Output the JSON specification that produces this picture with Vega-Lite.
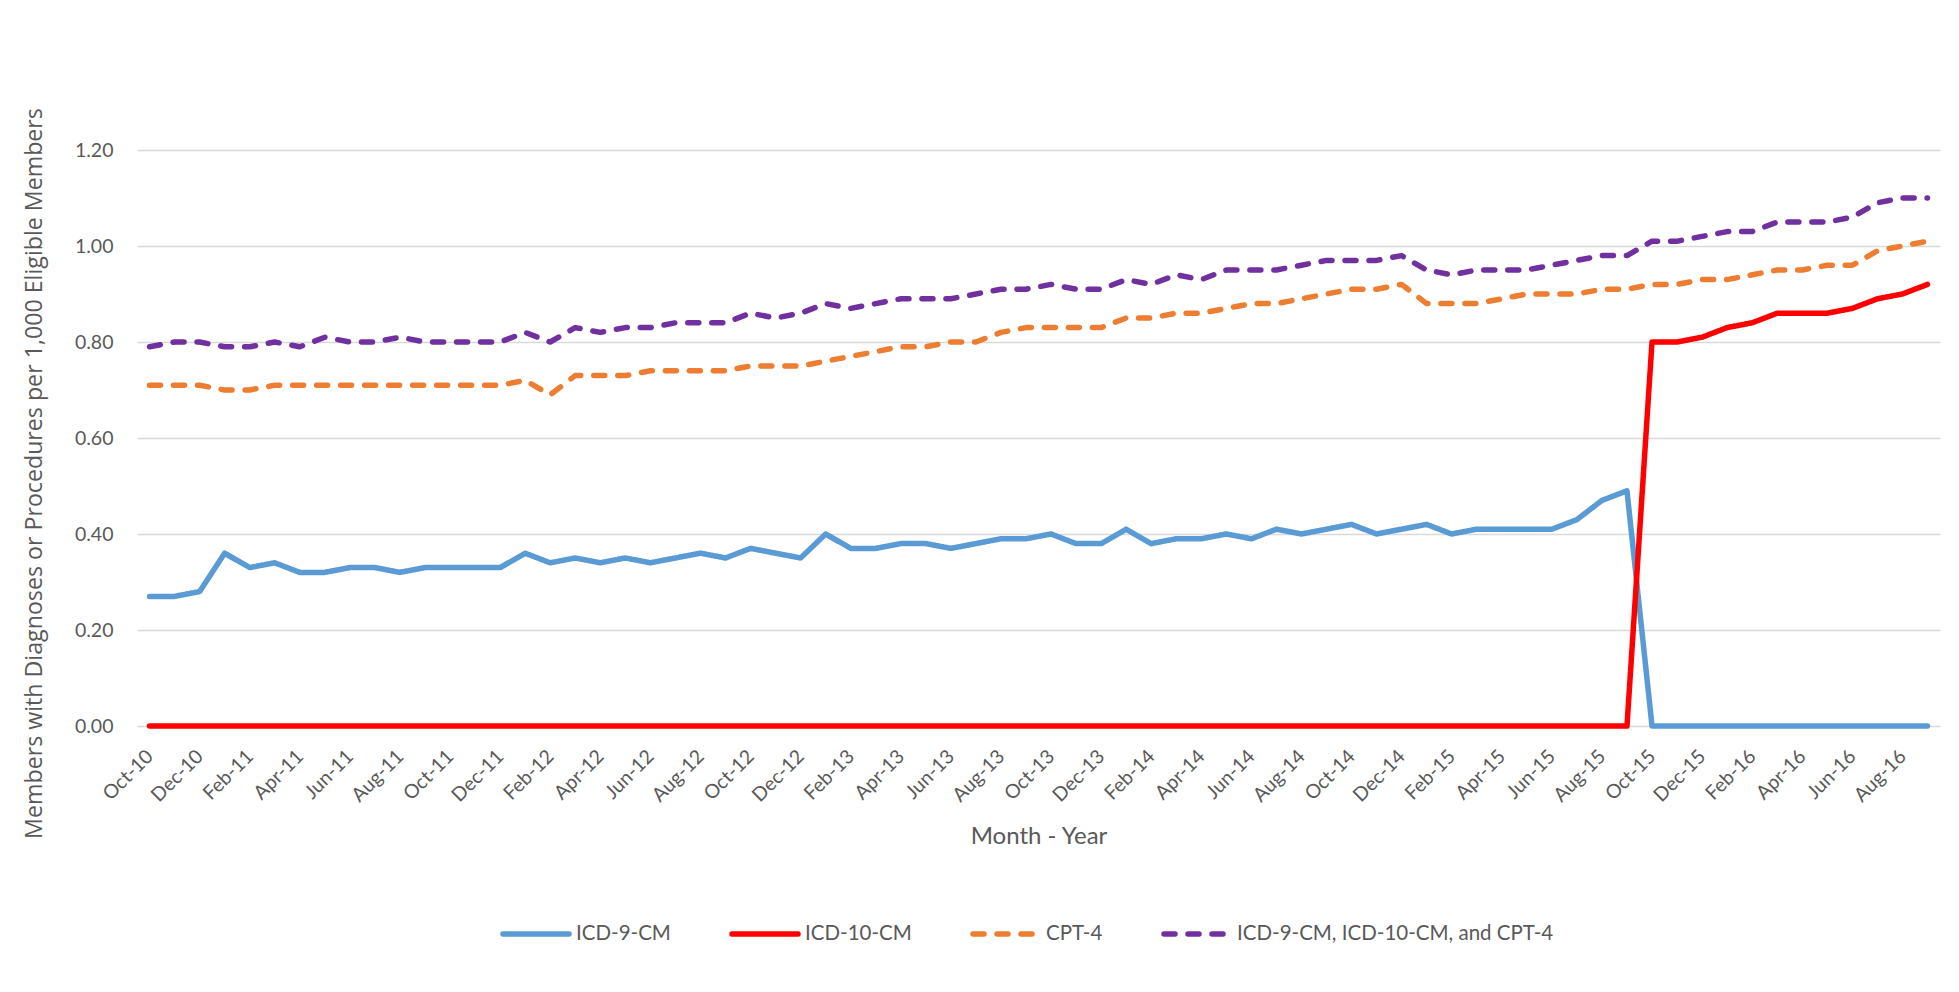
{
  "$schema": "https://vega.github.io/schema/vega-lite/v6.json",
  "width": 1803,
  "height": 576,
  "autosize": {"type": "none"},
  "padding": {"left": 137, "top": 150, "right": 19, "bottom": 266},
  "background": "white",
  "data": {"values": [
    {"month": "Oct-10", "ICD-9-CM": 0.27, "ICD-10-CM": 0, "CPT-4": 0.71, "ICD-9-CM, ICD-10-CM, and CPT-4": 0.79},
    {"month": "Nov-10", "ICD-9-CM": 0.27, "ICD-10-CM": 0, "CPT-4": 0.71, "ICD-9-CM, ICD-10-CM, and CPT-4": 0.80},
    {"month": "Dec-10", "ICD-9-CM": 0.28, "ICD-10-CM": 0, "CPT-4": 0.71, "ICD-9-CM, ICD-10-CM, and CPT-4": 0.80},
    {"month": "Jan-11", "ICD-9-CM": 0.36, "ICD-10-CM": 0, "CPT-4": 0.70, "ICD-9-CM, ICD-10-CM, and CPT-4": 0.79},
    {"month": "Feb-11", "ICD-9-CM": 0.33, "ICD-10-CM": 0, "CPT-4": 0.70, "ICD-9-CM, ICD-10-CM, and CPT-4": 0.79},
    {"month": "Mar-11", "ICD-9-CM": 0.34, "ICD-10-CM": 0, "CPT-4": 0.71, "ICD-9-CM, ICD-10-CM, and CPT-4": 0.80},
    {"month": "Apr-11", "ICD-9-CM": 0.32, "ICD-10-CM": 0, "CPT-4": 0.71, "ICD-9-CM, ICD-10-CM, and CPT-4": 0.79},
    {"month": "May-11", "ICD-9-CM": 0.32, "ICD-10-CM": 0, "CPT-4": 0.71, "ICD-9-CM, ICD-10-CM, and CPT-4": 0.81},
    {"month": "Jun-11", "ICD-9-CM": 0.33, "ICD-10-CM": 0, "CPT-4": 0.71, "ICD-9-CM, ICD-10-CM, and CPT-4": 0.80},
    {"month": "Jul-11", "ICD-9-CM": 0.33, "ICD-10-CM": 0, "CPT-4": 0.71, "ICD-9-CM, ICD-10-CM, and CPT-4": 0.80},
    {"month": "Aug-11", "ICD-9-CM": 0.32, "ICD-10-CM": 0, "CPT-4": 0.71, "ICD-9-CM, ICD-10-CM, and CPT-4": 0.81},
    {"month": "Sep-11", "ICD-9-CM": 0.33, "ICD-10-CM": 0, "CPT-4": 0.71, "ICD-9-CM, ICD-10-CM, and CPT-4": 0.80},
    {"month": "Oct-11", "ICD-9-CM": 0.33, "ICD-10-CM": 0, "CPT-4": 0.71, "ICD-9-CM, ICD-10-CM, and CPT-4": 0.80},
    {"month": "Nov-11", "ICD-9-CM": 0.33, "ICD-10-CM": 0, "CPT-4": 0.71, "ICD-9-CM, ICD-10-CM, and CPT-4": 0.80},
    {"month": "Dec-11", "ICD-9-CM": 0.33, "ICD-10-CM": 0, "CPT-4": 0.71, "ICD-9-CM, ICD-10-CM, and CPT-4": 0.80},
    {"month": "Jan-12", "ICD-9-CM": 0.36, "ICD-10-CM": 0, "CPT-4": 0.72, "ICD-9-CM, ICD-10-CM, and CPT-4": 0.82},
    {"month": "Feb-12", "ICD-9-CM": 0.34, "ICD-10-CM": 0, "CPT-4": 0.69, "ICD-9-CM, ICD-10-CM, and CPT-4": 0.80},
    {"month": "Mar-12", "ICD-9-CM": 0.35, "ICD-10-CM": 0, "CPT-4": 0.73, "ICD-9-CM, ICD-10-CM, and CPT-4": 0.83},
    {"month": "Apr-12", "ICD-9-CM": 0.34, "ICD-10-CM": 0, "CPT-4": 0.73, "ICD-9-CM, ICD-10-CM, and CPT-4": 0.82},
    {"month": "May-12", "ICD-9-CM": 0.35, "ICD-10-CM": 0, "CPT-4": 0.73, "ICD-9-CM, ICD-10-CM, and CPT-4": 0.83},
    {"month": "Jun-12", "ICD-9-CM": 0.34, "ICD-10-CM": 0, "CPT-4": 0.74, "ICD-9-CM, ICD-10-CM, and CPT-4": 0.83},
    {"month": "Jul-12", "ICD-9-CM": 0.35, "ICD-10-CM": 0, "CPT-4": 0.74, "ICD-9-CM, ICD-10-CM, and CPT-4": 0.84},
    {"month": "Aug-12", "ICD-9-CM": 0.36, "ICD-10-CM": 0, "CPT-4": 0.74, "ICD-9-CM, ICD-10-CM, and CPT-4": 0.84},
    {"month": "Sep-12", "ICD-9-CM": 0.35, "ICD-10-CM": 0, "CPT-4": 0.74, "ICD-9-CM, ICD-10-CM, and CPT-4": 0.84},
    {"month": "Oct-12", "ICD-9-CM": 0.37, "ICD-10-CM": 0, "CPT-4": 0.75, "ICD-9-CM, ICD-10-CM, and CPT-4": 0.86},
    {"month": "Nov-12", "ICD-9-CM": 0.36, "ICD-10-CM": 0, "CPT-4": 0.75, "ICD-9-CM, ICD-10-CM, and CPT-4": 0.85},
    {"month": "Dec-12", "ICD-9-CM": 0.35, "ICD-10-CM": 0, "CPT-4": 0.75, "ICD-9-CM, ICD-10-CM, and CPT-4": 0.86},
    {"month": "Jan-13", "ICD-9-CM": 0.40, "ICD-10-CM": 0, "CPT-4": 0.76, "ICD-9-CM, ICD-10-CM, and CPT-4": 0.88},
    {"month": "Feb-13", "ICD-9-CM": 0.37, "ICD-10-CM": 0, "CPT-4": 0.77, "ICD-9-CM, ICD-10-CM, and CPT-4": 0.87},
    {"month": "Mar-13", "ICD-9-CM": 0.37, "ICD-10-CM": 0, "CPT-4": 0.78, "ICD-9-CM, ICD-10-CM, and CPT-4": 0.88},
    {"month": "Apr-13", "ICD-9-CM": 0.38, "ICD-10-CM": 0, "CPT-4": 0.79, "ICD-9-CM, ICD-10-CM, and CPT-4": 0.89},
    {"month": "May-13", "ICD-9-CM": 0.38, "ICD-10-CM": 0, "CPT-4": 0.79, "ICD-9-CM, ICD-10-CM, and CPT-4": 0.89},
    {"month": "Jun-13", "ICD-9-CM": 0.37, "ICD-10-CM": 0, "CPT-4": 0.80, "ICD-9-CM, ICD-10-CM, and CPT-4": 0.89},
    {"month": "Jul-13", "ICD-9-CM": 0.38, "ICD-10-CM": 0, "CPT-4": 0.80, "ICD-9-CM, ICD-10-CM, and CPT-4": 0.90},
    {"month": "Aug-13", "ICD-9-CM": 0.39, "ICD-10-CM": 0, "CPT-4": 0.82, "ICD-9-CM, ICD-10-CM, and CPT-4": 0.91},
    {"month": "Sep-13", "ICD-9-CM": 0.39, "ICD-10-CM": 0, "CPT-4": 0.83, "ICD-9-CM, ICD-10-CM, and CPT-4": 0.91},
    {"month": "Oct-13", "ICD-9-CM": 0.40, "ICD-10-CM": 0, "CPT-4": 0.83, "ICD-9-CM, ICD-10-CM, and CPT-4": 0.92},
    {"month": "Nov-13", "ICD-9-CM": 0.38, "ICD-10-CM": 0, "CPT-4": 0.83, "ICD-9-CM, ICD-10-CM, and CPT-4": 0.91},
    {"month": "Dec-13", "ICD-9-CM": 0.38, "ICD-10-CM": 0, "CPT-4": 0.83, "ICD-9-CM, ICD-10-CM, and CPT-4": 0.91},
    {"month": "Jan-14", "ICD-9-CM": 0.41, "ICD-10-CM": 0, "CPT-4": 0.85, "ICD-9-CM, ICD-10-CM, and CPT-4": 0.93},
    {"month": "Feb-14", "ICD-9-CM": 0.38, "ICD-10-CM": 0, "CPT-4": 0.85, "ICD-9-CM, ICD-10-CM, and CPT-4": 0.92},
    {"month": "Mar-14", "ICD-9-CM": 0.39, "ICD-10-CM": 0, "CPT-4": 0.86, "ICD-9-CM, ICD-10-CM, and CPT-4": 0.94},
    {"month": "Apr-14", "ICD-9-CM": 0.39, "ICD-10-CM": 0, "CPT-4": 0.86, "ICD-9-CM, ICD-10-CM, and CPT-4": 0.93},
    {"month": "May-14", "ICD-9-CM": 0.40, "ICD-10-CM": 0, "CPT-4": 0.87, "ICD-9-CM, ICD-10-CM, and CPT-4": 0.95},
    {"month": "Jun-14", "ICD-9-CM": 0.39, "ICD-10-CM": 0, "CPT-4": 0.88, "ICD-9-CM, ICD-10-CM, and CPT-4": 0.95},
    {"month": "Jul-14", "ICD-9-CM": 0.41, "ICD-10-CM": 0, "CPT-4": 0.88, "ICD-9-CM, ICD-10-CM, and CPT-4": 0.95},
    {"month": "Aug-14", "ICD-9-CM": 0.40, "ICD-10-CM": 0, "CPT-4": 0.89, "ICD-9-CM, ICD-10-CM, and CPT-4": 0.96},
    {"month": "Sep-14", "ICD-9-CM": 0.41, "ICD-10-CM": 0, "CPT-4": 0.90, "ICD-9-CM, ICD-10-CM, and CPT-4": 0.97},
    {"month": "Oct-14", "ICD-9-CM": 0.42, "ICD-10-CM": 0, "CPT-4": 0.91, "ICD-9-CM, ICD-10-CM, and CPT-4": 0.97},
    {"month": "Nov-14", "ICD-9-CM": 0.40, "ICD-10-CM": 0, "CPT-4": 0.91, "ICD-9-CM, ICD-10-CM, and CPT-4": 0.97},
    {"month": "Dec-14", "ICD-9-CM": 0.41, "ICD-10-CM": 0, "CPT-4": 0.92, "ICD-9-CM, ICD-10-CM, and CPT-4": 0.98},
    {"month": "Jan-15", "ICD-9-CM": 0.42, "ICD-10-CM": 0, "CPT-4": 0.88, "ICD-9-CM, ICD-10-CM, and CPT-4": 0.95},
    {"month": "Feb-15", "ICD-9-CM": 0.40, "ICD-10-CM": 0, "CPT-4": 0.88, "ICD-9-CM, ICD-10-CM, and CPT-4": 0.94},
    {"month": "Mar-15", "ICD-9-CM": 0.41, "ICD-10-CM": 0, "CPT-4": 0.88, "ICD-9-CM, ICD-10-CM, and CPT-4": 0.95},
    {"month": "Apr-15", "ICD-9-CM": 0.41, "ICD-10-CM": 0, "CPT-4": 0.89, "ICD-9-CM, ICD-10-CM, and CPT-4": 0.95},
    {"month": "May-15", "ICD-9-CM": 0.41, "ICD-10-CM": 0, "CPT-4": 0.90, "ICD-9-CM, ICD-10-CM, and CPT-4": 0.95},
    {"month": "Jun-15", "ICD-9-CM": 0.41, "ICD-10-CM": 0, "CPT-4": 0.90, "ICD-9-CM, ICD-10-CM, and CPT-4": 0.96},
    {"month": "Jul-15", "ICD-9-CM": 0.43, "ICD-10-CM": 0, "CPT-4": 0.90, "ICD-9-CM, ICD-10-CM, and CPT-4": 0.97},
    {"month": "Aug-15", "ICD-9-CM": 0.47, "ICD-10-CM": 0, "CPT-4": 0.91, "ICD-9-CM, ICD-10-CM, and CPT-4": 0.98},
    {"month": "Sep-15", "ICD-9-CM": 0.49, "ICD-10-CM": 0, "CPT-4": 0.91, "ICD-9-CM, ICD-10-CM, and CPT-4": 0.98},
    {"month": "Oct-15", "ICD-9-CM": 0, "ICD-10-CM": 0.80, "CPT-4": 0.92, "ICD-9-CM, ICD-10-CM, and CPT-4": 1.01},
    {"month": "Nov-15", "ICD-9-CM": 0, "ICD-10-CM": 0.80, "CPT-4": 0.92, "ICD-9-CM, ICD-10-CM, and CPT-4": 1.01},
    {"month": "Dec-15", "ICD-9-CM": 0, "ICD-10-CM": 0.81, "CPT-4": 0.93, "ICD-9-CM, ICD-10-CM, and CPT-4": 1.02},
    {"month": "Jan-16", "ICD-9-CM": 0, "ICD-10-CM": 0.83, "CPT-4": 0.93, "ICD-9-CM, ICD-10-CM, and CPT-4": 1.03},
    {"month": "Feb-16", "ICD-9-CM": 0, "ICD-10-CM": 0.84, "CPT-4": 0.94, "ICD-9-CM, ICD-10-CM, and CPT-4": 1.03},
    {"month": "Mar-16", "ICD-9-CM": 0, "ICD-10-CM": 0.86, "CPT-4": 0.95, "ICD-9-CM, ICD-10-CM, and CPT-4": 1.05},
    {"month": "Apr-16", "ICD-9-CM": 0, "ICD-10-CM": 0.86, "CPT-4": 0.95, "ICD-9-CM, ICD-10-CM, and CPT-4": 1.05},
    {"month": "May-16", "ICD-9-CM": 0, "ICD-10-CM": 0.86, "CPT-4": 0.96, "ICD-9-CM, ICD-10-CM, and CPT-4": 1.05},
    {"month": "Jun-16", "ICD-9-CM": 0, "ICD-10-CM": 0.87, "CPT-4": 0.96, "ICD-9-CM, ICD-10-CM, and CPT-4": 1.06},
    {"month": "Jul-16", "ICD-9-CM": 0, "ICD-10-CM": 0.89, "CPT-4": 0.99, "ICD-9-CM, ICD-10-CM, and CPT-4": 1.09},
    {"month": "Aug-16", "ICD-9-CM": 0, "ICD-10-CM": 0.90, "CPT-4": 1.00, "ICD-9-CM, ICD-10-CM, and CPT-4": 1.10},
    {"month": "Sep-16", "ICD-9-CM": 0, "ICD-10-CM": 0.92, "CPT-4": 1.01, "ICD-9-CM, ICD-10-CM, and CPT-4": 1.10}
  ]},
  "transform": [
    {"fold": ["ICD-9-CM", "ICD-10-CM", "CPT-4", "ICD-9-CM, ICD-10-CM, and CPT-4"], "as": ["series", "value"]}
  ],
  "mark": {"type": "line", "strokeWidth": 5.5, "strokeCap": "round", "strokeJoin": "round"},
  "encoding": {
    "x": {
      "field": "month", "type": "ordinal", "sort": null,
      "scale": {"type": "point", "padding": 0.5},
      "axis": {
        "values": ["Oct-10","Dec-10","Feb-11","Apr-11","Jun-11","Aug-11","Oct-11","Dec-11","Feb-12","Apr-12","Jun-12","Aug-12","Oct-12","Dec-12","Feb-13","Apr-13","Jun-13","Aug-13","Oct-13","Dec-13","Feb-14","Apr-14","Jun-14","Aug-14","Oct-14","Dec-14","Feb-15","Apr-15","Jun-15","Aug-15","Oct-15","Dec-15","Feb-16","Apr-16","Jun-16","Aug-16"],
        "labelAngle": -45, "labelAlign": "right", "labelBaseline": "middle",
        "labelFont": "Lato", "labelFontSize": 19.5, "labelColor": "#595959", "labelPadding": 27,
        "labelOverlap": false,
        "ticks": false, "domain": false, "grid": false,
        "title": "Month - Year", "titleFont": "Lato", "titleFontSize": 24, "titleFontWeight": "normal",
        "titleColor": "#595959", "titleY": 110, "titleBaseline": "middle"
      }
    },
    "y": {
      "field": "value", "type": "quantitative",
      "scale": {"domain": [0, 1.2], "nice": false},
      "axis": {
        "values": [0, 0.2, 0.4, 0.6, 0.8, 1.0, 1.2], "format": ".2f",
        "labelFont": "Lato", "labelFontSize": 19.5, "labelColor": "#595959", "labelPadding": 24,
        "ticks": false, "domain": false, "grid": true, "gridColor": "#d9d9d9", "gridWidth": 1.3,
        "title": "Members with Diagnoses or Procedures per 1,000 Eligible Members",
        "titleFont": "Open Sans", "titleFontSize": 23.2, "titleFontWeight": "normal", "titleColor": "#595959",
        "titleX": -103, "titleY": 323, "titleBaseline": "middle", "titleAlign": "center", "titleAngle": -90
      }
    },
    "color": {
      "field": "series", "type": "nominal",
      "scale": {"domain": ["ICD-9-CM", "ICD-10-CM", "CPT-4", "ICD-9-CM, ICD-10-CM, and CPT-4"], "range": ["#5B9BD5", "#FF0000", "#ED7D31", "#7030A0"]},
      "legend": {
        "title": null, "orient": "none", "legendX": 363, "legendY": 748, "direction": "horizontal",
        "symbolType": "stroke", "symbolSize": 4356, "symbolStrokeWidth": 5.5,
        "labelFont": "Lato", "labelFontSize": 20.5, "labelColor": "#595959", "labelOffset": 4, "labelLimit": 0,
        "columnPadding": 50,
        "encode": {"symbols": {"update": {"strokeCap": {"value": "round"}}}}
      }
    },
    "strokeDash": {
      "field": "series", "type": "nominal",
      "scale": {"domain": ["ICD-9-CM", "ICD-10-CM", "CPT-4", "ICD-9-CM, ICD-10-CM, and CPT-4"], "range": [[1, 0], [1, 0], [11, 13], [11, 13]]},
      "legend": {
        "title": null, "orient": "none", "legendX": 363, "legendY": 748, "direction": "horizontal",
        "symbolType": "stroke", "symbolSize": 4356, "symbolStrokeWidth": 5.5,
        "labelFont": "Lato", "labelFontSize": 20.5, "labelColor": "#595959", "labelOffset": 4, "labelLimit": 0,
        "columnPadding": 50,
        "encode": {"symbols": {"update": {"strokeCap": {"value": "round"}}}}
      }
    }
  },
  "config": {"view": {"stroke": null}}
}
